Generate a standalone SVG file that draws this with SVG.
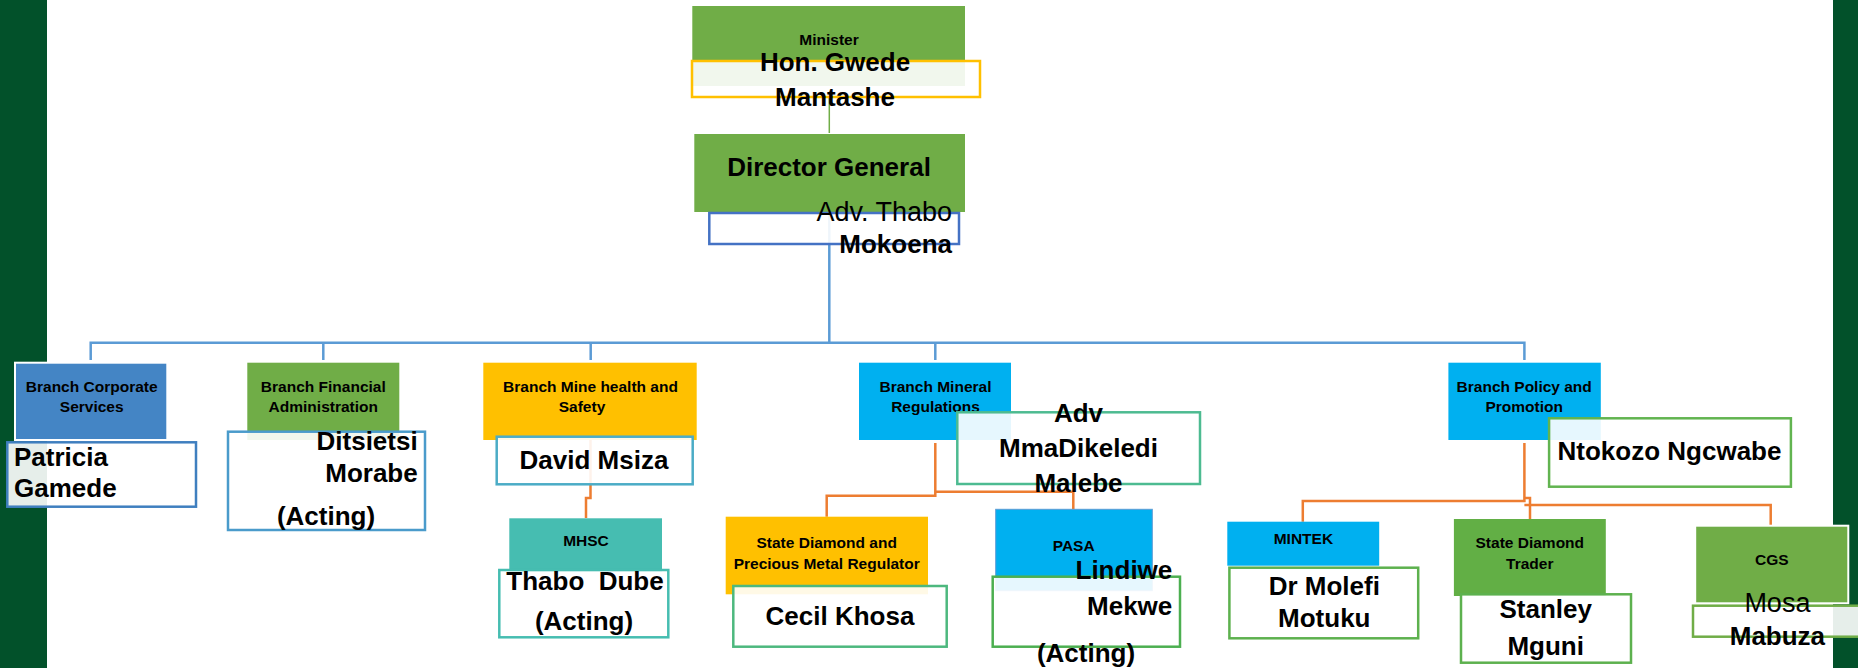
<svg xmlns="http://www.w3.org/2000/svg" width="1858" height="668" viewBox="0 0 1858 668">
<style>
text{font-family:"Liberation Sans",Arial,sans-serif;fill:#000}
.lbl{font-size:15.5px;font-weight:bold;text-anchor:middle}
.nm{font-size:26px;font-weight:bold}
.rg{font-size:27px;font-weight:normal}
.c{text-anchor:middle}
.e{text-anchor:end}
.nb{fill:#fff;fill-opacity:0.9;stroke-width:2.5}
.cb{fill:none;stroke:#5B9BD5;stroke-width:2.5}
.co{fill:none;stroke:#ED7D31;stroke-width:2.5}
</style>
<rect x="0" y="0" width="1858" height="668" fill="#fff"/>
<rect x="0" y="0" width="47" height="668" fill="#02512A"/>
<rect x="1833" y="0" width="25" height="668" fill="#02512A"/>

<g id="connectors">
<path d="M829.3 97 V133" fill="none" stroke="#70AD47" stroke-width="1.5"/>
<path class="cb" d="M829.3 212 V342.7"/>
<path class="cb" d="M90.7 360 V342.7 H1524.4 V360"/>
<path class="cb" d="M323.3 342.7 V360 M590.7 342.7 V360 M935.3 342.7 V360"/>
<path class="co" d="M590.5 440 V498 H586 V518"/>
<path class="co" d="M935.3 443 V495.7 H826.7 V516.7"/>
<path class="co" d="M935.3 491.7 H1073.3 V509.3"/>
<path class="co" d="M1524.4 443 V501 H1302.8 V521.7"/>
<path class="co" d="M1524.4 498 H1530 V519"/>
<path class="co" d="M1524.4 505 H1770.7 V525.7"/>
</g>

<g id="minister">
<rect x="692.3" y="6" width="272.7" height="80" fill="#70AD47"/>
<text class="lbl" x="829" y="45">Minister</text>
<rect class="nb" x="692" y="61" width="288" height="36" stroke="#FFC000"/>
<text class="nm c" x="835" y="71" font-size="27">Hon. Gwede</text>
<text class="nm c" x="835" y="106" font-size="27">Mantashe</text>
</g>

<g id="director-general">
<rect x="694.3" y="134" width="270.7" height="78" fill="#70AD47"/>
<text class="nm c" x="829" y="176" font-size="27.5">Director General</text>
<rect class="nb" x="709.3" y="213" width="249.7" height="31" stroke="#4472C4"/>
<text class="rg e" x="952" y="221">Adv. Thabo</text>
<text class="nm e" x="952" y="253">Mokoena</text>
</g>

<g id="corporate-services">
<rect x="15" y="362.7" width="152.3" height="77.3" fill="#4485C5" stroke="#fff" stroke-width="2"/>
<text class="lbl" x="91.7" y="392">Branch Corporate</text>
<text class="lbl" x="91.7" y="412">Services</text>
<rect class="nb" x="7.3" y="442.3" width="188.7" height="64.4" stroke="#3F7FBF"/>
<text class="nm" x="14" y="466" font-size="25.5">Patricia</text>
<text class="nm" x="14" y="497.3" font-size="25.5">Gamede</text>
</g>

<g id="financial-administration">
<rect x="247.3" y="362.7" width="152" height="77.3" fill="#70AD47"/>
<text class="lbl" x="323.3" y="392">Branch Financial</text>
<text class="lbl" x="323.3" y="412">Administration</text>
<rect class="nb" x="228" y="431.7" width="197" height="98.3" stroke="#4A9BCB"/>
<text class="nm e" x="417.7" y="450">Ditsietsi</text>
<text class="nm e" x="417.7" y="481.7">Morabe</text>
<text class="nm c" x="326" y="525">(Acting)</text>
</g>

<g id="mine-health-safety">
<rect x="483.3" y="362.7" width="213.4" height="77.3" fill="#FFC000"/>
<text class="lbl" x="590.5" y="392">Branch Mine health and</text>
<text class="lbl" x="582" y="412">Safety</text>
<rect class="nb" x="496.7" y="436.7" width="196" height="47.6" stroke="#4BACC6"/>
<text class="nm c" x="594" y="469.3" font-size="27">David Msiza</text>
</g>

<g id="mhsc">
<rect x="509.3" y="518.3" width="152.7" height="53.4" fill="#46BDB1"/>
<text class="lbl" x="586" y="546">MHSC</text>
<rect class="nb" x="499.3" y="570" width="169" height="67.3" stroke="#46BDB1"/>
<text class="nm c" x="585" y="590" xml:space="preserve">Thabo  Dube</text>
<text class="nm c" x="584" y="630">(Acting)</text>
</g>

<g id="mineral-regulations">
<rect x="859" y="362.7" width="152" height="77.3" fill="#00B0F0"/>
<text class="lbl" x="935.5" y="392">Branch Mineral</text>
<text class="lbl" x="935.5" y="412">Regulations</text>
<rect class="nb" x="957.3" y="412.3" width="242.7" height="71.7" stroke="#4DBB91"/>
<text class="nm c" x="1078.5" y="421.7" font-size="28">Adv</text>
<text class="nm c" x="1078.5" y="457.3" font-size="28">MmaDikeledi</text>
<text class="nm c" x="1078.5" y="491.7" font-size="28">Malebe</text>
</g>

<g id="sdpmr">
<rect x="725.7" y="516.7" width="202.3" height="77.6" fill="#FFC000"/>
<text class="lbl" x="826.7" y="548.3">State Diamond and</text>
<text class="lbl" x="826.7" y="569.3">Precious Metal Regulator</text>
<rect class="nb" x="733.3" y="586" width="213.4" height="60.7" stroke="#4DB87E"/>
<text class="nm c" x="840" y="625" font-size="24.5">Cecil Khosa</text>
</g>

<g id="pasa">
<rect x="995.7" y="509.3" width="156.6" height="81.4" fill="#00B0F0" stroke="#5B9BD5" stroke-width="1"/>
<text class="lbl" x="1073.7" y="550.7" font-size="15">PASA</text>
<rect class="nb" x="992.7" y="576.7" width="187.3" height="70" stroke="#4CAF50"/>
<text class="nm e" x="1172.3" y="579.3" font-size="27">Lindiwe</text>
<text class="nm e" x="1172.3" y="615" font-size="27">Mekwe</text>
<text class="nm c" x="1086" y="661.7" font-size="27">(Acting)</text>
</g>

<g id="policy-promotion">
<rect x="1448.4" y="362.7" width="152.4" height="77.3" fill="#00B0F0"/>
<text class="lbl" x="1524.2" y="392">Branch Policy and</text>
<text class="lbl" x="1524.2" y="412">Promotion</text>
<rect class="nb" x="1549.1" y="418.3" width="241.8" height="68.4" stroke="#62B450"/>
<text class="nm c" x="1669.5" y="460" font-size="25.5">Ntokozo Ngcwabe</text>
</g>

<g id="mintek">
<rect x="1227.3" y="521.7" width="151.9" height="44" fill="#00B0F0"/>
<text class="lbl" x="1303.4" y="544">MINTEK</text>
<rect class="nb" x="1229.4" y="567.7" width="188.8" height="70.6" stroke="#5DB14E"/>
<text class="nm c" x="1324.3" y="595" font-size="26">Dr Molefi</text>
<text class="nm c" x="1324.3" y="627.3" font-size="26">Motuku</text>
</g>

<g id="state-diamond-trader">
<rect x="1453.9" y="519" width="151.9" height="77" fill="#62AF45"/>
<text class="lbl" x="1529.8" y="548.3">State Diamond</text>
<text class="lbl" x="1529.8" y="569.3">Trader</text>
<rect class="nb" x="1461" y="594.3" width="170" height="68.4" stroke="#5DB14E"/>
<text class="nm c" x="1545.7" y="618.3" font-size="27">Stanley</text>
<text class="nm c" x="1545.7" y="655" font-size="27">Mguni</text>
</g>

<g id="cgs">
<rect x="1695.2" y="525.7" width="153.1" height="77.6" fill="#70AD47" stroke="#fff" stroke-width="2"/>
<text class="lbl" x="1771.8" y="565">CGS</text>
<rect class="nb" x="1693" y="605.7" width="170" height="31" stroke="#70AD47"/>
<text class="rg c" x="1777.4" y="611.7" font-size="26">Mosa</text>
<text class="nm c" x="1777.4" y="645">Mabuza</text>
</g>
</svg>
